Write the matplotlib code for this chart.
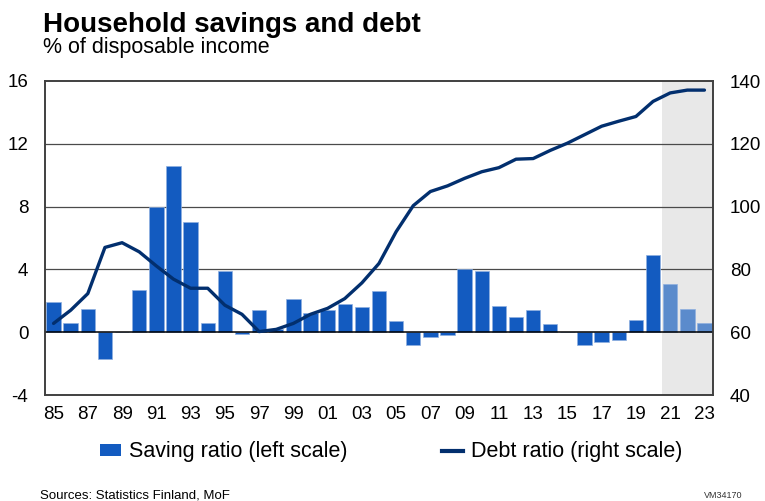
import matplotlib.pyplot as plt
from matplotlib.lines import Line2D
from matplotlib.patches import Patch

plt.rcParams['font.family'] = ['Liberation Sans', 'DejaVu Sans']
plt.rcParams['axes.unicode_minus'] = False

################
# DATA
################
years = list(range(1985, 2024))
saving_ratio = [1.9, 0.6, 1.5, -1.7, 0.0, 2.7, 8.0, 10.6, 7.0, 0.6,
                3.9, -0.1, 1.4, 0.2, 2.1, 1.2, 1.4, 1.8, 1.6, 2.6,
                0.7, -0.8, -0.3, -0.2, 4.0, 3.9, 1.7, 1.0, 1.4, 0.5,
                0.0, -0.8, -0.6, -0.5, 0.8, 4.9, 3.1, 1.5, 0.6]
debt_ratio = [62.8, 67.0, 72.3, 87.0, 88.5, 85.6, 81.1, 76.9, 74.0, 74.0,
              68.6, 65.7, 60.2, 60.9, 62.8, 65.7, 67.6, 70.7, 75.7, 81.9,
              92.0, 100.3, 104.8, 106.6, 109.0, 111.1, 112.4, 115.1, 115.3, 117.9,
              120.2, 122.9, 125.6, 127.2, 128.7, 133.5, 136.2, 137.1, 137.1]
first_forecast_year = 2021
tick_years = years[::2]
tick_labels = ["%02d" % (y % 100) for y in tick_years]

################
# COLOURS
################
bar_blue = "#135bc0"
bar_light = "#5b8bcc"
line_navy = "#022f6e"
shade = "#e8e8e8"

fig = plt.figure(figsize=(7.65, 5.01), dpi=100)
ax = fig.add_axes([45 / 765, 1 - 395 / 501, 668 / 765, 314 / 501])

x = list(range(len(years)))
colors = [bar_light if y >= first_forecast_year else bar_blue for y in years]

# shaded forecast period
fc_start = years.index(first_forecast_year) - 0.5
ax.axvspan(fc_start, len(years) - 0.5, color=shade, zorder=0, lw=0)

# horizontal grid lines
for g in [4, 8, 12]:
    ax.axhline(g, color="#4a4a4a", lw=0.9, zorder=1)
ax.axhline(0, color="black", lw=1.1, zorder=3)

ax.bar(x, saving_ratio, width=0.84, color=colors, edgecolor="#8fb0e0",
       linewidth=0.5, zorder=2)

ax.set_xlim(-0.5, len(years) - 0.5)
ax.set_ylim(-4, 16)
ax.set_yticks([-4, 0, 4, 8, 12, 16])
ax.set_xticks([years.index(y) for y in tick_years])
ax.set_xticklabels(tick_labels)
ax.tick_params(axis="both", length=0, labelsize=13.5)
ax.tick_params(axis="y", pad=12)
ax.tick_params(axis="x", pad=8)

# debt ratio on the right scale
ax2 = ax.twinx()
ax2.plot(x, debt_ratio, color=line_navy, lw=2.4, solid_capstyle="round", zorder=4)
ax2.set_ylim(40, 140)
ax2.set_yticks([40, 60, 80, 100, 120, 140])
ax2.tick_params(axis="y", length=0, labelsize=13.5, pad=12)

for a in (ax, ax2):
    for s in a.spines.values():
        s.set_color("#404040")
        s.set_linewidth(1.2)

# titles
fig.text(43 / 765, 1 - 32 / 501, "Household savings and debt", fontsize=20,
         fontweight="bold", va="baseline")
fig.text(43 / 765, 1 - 53 / 501, "% of disposable income", fontsize=15.5,
         va="baseline")

# legend
handles = [Patch(facecolor=bar_blue, edgecolor="none", label="Saving ratio (left scale)"),
           Line2D([0], [0], color=line_navy, lw=3, label="Debt ratio (right scale)")]
fig.legend(handles=handles, loc="center", bbox_to_anchor=(391 / 765, 1 - 452 / 501),
           ncol=2, frameon=False, fontsize=15.5, handlelength=1.0, handleheight=0.5,
           handletextpad=0.35, columnspacing=4.4)

# footer
fig.text(40 / 765, 1 - 498 / 501, "Sources: Statistics Finland, MoF", fontsize=9.5,
         va="baseline")
fig.text(742 / 765, 1 - 498 / 501, "VM34170", fontsize=6.5, ha="right",
         va="baseline", color="#333333")

fig.savefig("out.png", dpi=100)
